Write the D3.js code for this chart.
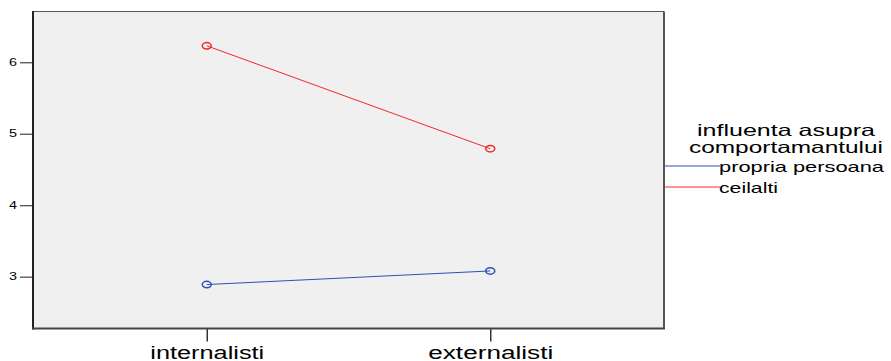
<!DOCTYPE html>
<html>
<head>
<meta charset="utf-8">
<script src="https://cdn.jsdelivr.net/npm/d3@7"></script>
<style>
  html, body { margin: 0; padding: 0; background: #fff; }
  svg { display: block; font-family: "Liberation Sans", Arial, sans-serif; }
</style>
</head>
<body>
<svg id="chart" width="891" height="361"></svg>
<script>
// ---- data ----
const categories = ["internalisti", "externalisti"];
const seriesNames = ["propria persoana", "ceilalti"];
const seriesColors = ["#2f4fb4", "#f02a2a"];
const proprie = [2.89, 3.08];
const ceilalti = [6.23, 4.79];
const yTicks = [3, 4, 5, 6];
const legendTitle = ["influenta asupra", "comportamantului"];

const seriesValues = [proprie, ceilalti];

// ---- layout ----
const svg = d3.select("#chart");
const plot = { left: 33, top: 11.5, right: 664, bottom: 328.5 };

const x = d3.scalePoint()
  .domain(categories)
  .range([plot.left, plot.right])
  .padding(0.613);

const y = d3.scaleLinear()
  .domain([2.275, 6.71])
  .range([plot.bottom, plot.top]);

// plot background
svg.append("rect")
  .attr("x", plot.left).attr("y", plot.top)
  .attr("width", plot.right - plot.left)
  .attr("height", plot.bottom - plot.top)
  .attr("fill", "#f0f0f0")
  .attr("stroke", "none");

// top & right frame
svg.append("line").attr("x1", plot.left).attr("x2", plot.right)
  .attr("y1", plot.top).attr("y2", plot.top)
  .attr("stroke", "#555").attr("stroke-width", 1);
svg.append("line").attr("x1", plot.right).attr("x2", plot.right)
  .attr("y1", plot.top).attr("y2", plot.bottom)
  .attr("stroke", "#555").attr("stroke-width", 2);

// y axis
const yAxis = d3.axisLeft(y).tickValues(yTicks).tickSize(13).tickPadding(3)
  .tickFormat(d3.format("d"));
const gy = svg.append("g").attr("transform", `translate(${plot.left},0)`).call(yAxis);
gy.select(".domain").remove();
gy.selectAll(".tick line").attr("stroke", "#444").attr("stroke-width", 1.2);
gy.selectAll(".tick text")
  .attr("font-size", 10)
  .attr("fill", "#000")
  .attr("textLength", 8)
  .attr("lengthAdjust", "spacingAndGlyphs");
svg.append("line").attr("x1", plot.left).attr("x2", plot.left)
  .attr("y1", plot.top - 0.5).attr("y2", plot.bottom + 1)
  .attr("stroke", "#222").attr("stroke-width", 2);

// x axis
const xAxis = d3.axisBottom(x).tickSize(13).tickPadding(3);
const gx = svg.append("g").attr("transform", `translate(0,${plot.bottom})`).call(xAxis);
gx.select(".domain").remove();
gx.selectAll(".tick line").attr("stroke", "#333").attr("stroke-width", 1.5);
gx.selectAll(".tick text")
  .attr("font-size", 17.5)
  .attr("fill", "#000")
  .attr("dy", "0.8em")
  .attr("textLength", d => d === "internalisti" ? 114 : 125)
  .attr("lengthAdjust", "spacingAndGlyphs");
svg.append("line").attr("x1", plot.left - 1).attr("x2", plot.right + 1)
  .attr("y1", plot.bottom).attr("y2", plot.bottom)
  .attr("stroke", "#444").attr("stroke-width", 2);

// series lines and markers
const line = d3.line()
  .x((d, i) => x(categories[i]))
  .y(d => y(d));

seriesValues.forEach((vals, si) => {
  svg.append("path")
    .datum(vals)
    .attr("d", line)
    .attr("fill", "none")
    .attr("stroke", seriesColors[si])
    .attr("stroke-width", 1);
  svg.selectAll(null)
    .data(vals)
    .enter()
    .append("ellipse")
    .attr("cx", (d, i) => x(categories[i]))
    .attr("cy", d => y(d))
    .attr("rx", 4.5)
    .attr("ry", 3.2)
    .attr("fill", "none")
    .attr("stroke", seriesColors[si])
    .attr("stroke-width", 1.5);
});

// legend
const legendCx = 786;
svg.selectAll(".ltitle")
  .data(legendTitle)
  .enter()
  .append("text")
  .attr("class", "ltitle")
  .attr("x", legendCx)
  .attr("y", (d, i) => 136 + i * 17)
  .attr("text-anchor", "middle")
  .attr("font-size", 16.5)
  .attr("fill", "#000")
  .attr("textLength", (d, i) => i === 0 ? 178 : 194)
  .attr("lengthAdjust", "spacingAndGlyphs")
  .text(d => d);

const legendY = [166, 187];
seriesNames.forEach((name, i) => {
  svg.append("line")
    .attr("x1", plot.right + 1).attr("x2", 720)
    .attr("y1", legendY[i]).attr("y2", legendY[i])
    .attr("stroke", seriesColors[i])
    .attr("stroke-width", 1);
  svg.append("text")
    .attr("x", 719)
    .attr("y", legendY[i] + 5.5)
    .attr("font-size", 15)
    .attr("fill", "#000")
    .attr("textLength", i === 0 ? 165 : 59)
    .attr("lengthAdjust", "spacingAndGlyphs")
    .text(name);
});
</script>
</body>
</html>
